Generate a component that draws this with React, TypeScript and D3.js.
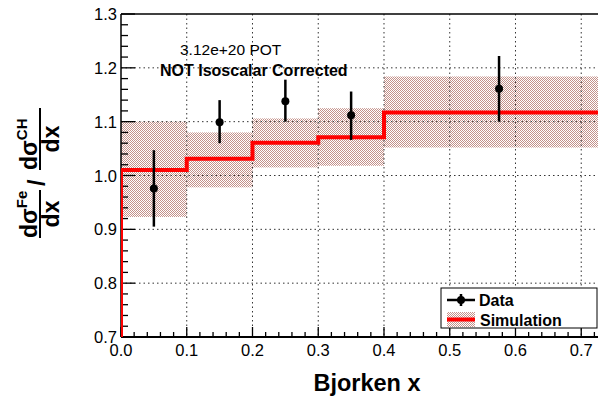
import React from "react";
import * as d3 from "d3";

const binEdges = [0, 0.1, 0.2, 0.3, 0.4, 1.0];
const simValues = [1.01, 1.031, 1.061, 1.071, 1.117];
const simLow = [0.923, 0.978, 1.015, 1.018, 1.052];
const simHigh = [1.1, 1.08, 1.106, 1.125, 1.184];

const dataX = [0.05, 0.15, 0.25, 0.35, 0.575];
const dataY = [0.976, 1.099, 1.138, 1.112, 1.161];
const dataLow = [0.905, 1.06, 1.1, 1.066, 1.1];
const dataHigh = [1.047, 1.14, 1.178, 1.156, 1.222];

const xTicks = [0, 0.1, 0.2, 0.3, 0.4, 0.5, 0.6, 0.7];
const yTicks = [0.7, 0.8, 0.9, 1.0, 1.1, 1.2, 1.3];

const W = 598;
const H = 398;
const L = 121;
const R = 598;
const T = 14;
const B = 337;
const FONT = "'Liberation Sans', Arial, Helvetica, sans-serif";
const HATCH = "#c4918a";

export default function App() {
  const x = d3.scaleLinear().domain([0, 0.7255]).range([L, R]);
  const y = d3.scaleLinear().domain([0.7, 1.3]).range([B, T]);

  const xMinor = d3.range(0, 0.73, 0.02);
  const yMinor = d3.range(0.7, 1.3001, 0.02);

  const stepPts: [number, number][] = [[0, 0.6]];
  simValues.forEach((v, i) => {
    stepPts.push([binEdges[i], v]);
    stepPts.push([binEdges[i + 1], v]);
  });
  const stepLine = d3
    .line<[number, number]>()
    .x((d) => x(d[0]))
    .y((d) => y(d[1]));

  return (
    <svg
      width={W}
      height={H}
      style={{ position: "fixed", left: 0, top: 0, background: "#fff" }}
      fontFamily={FONT}
    >
      <defs>
        <pattern id="hatch" width="2" height="2" patternUnits="userSpaceOnUse">
          <rect x="0" y="0" width="2" height="2" fill="#fff" />
          <rect x="0" y="0" width="1" height="1" fill={HATCH} />
          <rect x="1" y="1" width="1" height="1" fill={HATCH} />
        </pattern>
        <clipPath id="plot">
          <rect x={L} y={T} width={R - L} height={B - T} />
        </clipPath>
      </defs>
      <rect x={0} y={0} width={W} height={H} fill="#fff" />

      <g clipPath="url(#plot)">
        {simValues.map((v, i) => (
          <rect
            key={"band" + i}
            x={x(binEdges[i])}
            y={y(simHigh[i])}
            width={x(binEdges[i + 1]) - x(binEdges[i])}
            height={y(simLow[i]) - y(simHigh[i])}
            fill="url(#hatch)"
          />
        ))}
      </g>

      {/* grid */}
      {xTicks.slice(1).map((t) => (
        <line
          key={"gx" + t}
          x1={x(t)}
          x2={x(t)}
          y1={T}
          y2={B}
          stroke="#333"
          strokeWidth={1}
          strokeDasharray="1.5 3"
        />
      ))}
      {yTicks.slice(1, -1).map((t) => (
        <line
          key={"gy" + t}
          x1={L}
          x2={R}
          y1={y(t)}
          y2={y(t)}
          stroke="#333"
          strokeWidth={1}
          strokeDasharray="1.5 3"
        />
      ))}

      {/* ticks */}
      {xMinor.map((t, i) => {
        const major = i % 5 === 0;
        return (
          <line
            key={"xt" + i}
            x1={x(t)}
            x2={x(t)}
            y1={B}
            y2={B - (major ? 10 : 5)}
            stroke="#000"
            strokeWidth={1.3}
          />
        );
      })}
      {yMinor.map((t, i) => {
        const major = i % 5 === 0;
        return (
          <line
            key={"yt" + i}
            x1={L}
            x2={L + (major ? 14 : 7)}
            y1={y(t)}
            y2={y(t)}
            stroke="#000"
            strokeWidth={1.3}
          />
        );
      })}

      {/* frame */}
      <line x1={L} x2={R} y1={T} y2={T} stroke="#000" strokeWidth={1.5} />
      <line x1={L} x2={R} y1={B} y2={B} stroke="#000" strokeWidth={2} />
      <line x1={L} x2={L} y1={T} y2={B} stroke="#000" strokeWidth={1.5} />

      {/* simulation line */}
      <g clipPath="url(#plot)">
        <path
          d={stepLine(stepPts) || ""}
          fill="none"
          stroke="#ff0000"
          strokeWidth={4}
        />
      </g>

      {/* data */}
      {dataX.map((dx, i) => (
        <g key={"d" + i}>
          <line
            x1={x(dx)}
            x2={x(dx)}
            y1={y(dataLow[i])}
            y2={y(dataHigh[i])}
            stroke="#000"
            strokeWidth={2.5}
          />
          <circle cx={x(dx)} cy={y(dataY[i])} r={4} fill="#000" />
        </g>
      ))}

      {/* tick labels */}
      {xTicks.map((t) => (
        <text
          key={"xl" + t}
          x={x(t)}
          y={356}
          fontSize={16.5}
          textAnchor="middle"
          fill="#000"
        >
          {t.toFixed(1)}
        </text>
      ))}
      {yTicks.map((t) => (
        <text
          key={"yl" + t}
          x={117}
          y={y(t) + 6}
          fontSize={16.5}
          textAnchor="end"
          fill="#000"
        >
          {t.toFixed(1)}
        </text>
      ))}

      {/* axis title */}
      <text
        x={367}
        y={391}
        fontSize={23.5}
        fontWeight="bold"
        textAnchor="middle"
        fill="#000"
      >
        Bjorken x
      </text>

      {/* y axis title */}
      <g transform="translate(40,238) rotate(-90)" fontWeight="bold" fill="#000">
        <text x={0} y={-3} fontSize={23}>
          dσ
          <tspan fontSize={15} dy={-10}>Fe</tspan>
        </text>
        <line x1={0} x2={48} y1={0} y2={0} stroke="#000" strokeWidth={2} />
        <text x={24} y={19} fontSize={23} textAnchor="middle">
          dx
        </text>
        <text x={52} y={5} fontSize={23}>
          /
        </text>
        <text x={68} y={-3} fontSize={23}>
          dσ
          <tspan fontSize={15} dy={-10}>CH</tspan>
        </text>
        <line x1={68} x2={130} y1={0} y2={0} stroke="#000" strokeWidth={2} />
        <text x={99} y={19} fontSize={23} textAnchor="middle">
          dx
        </text>
      </g>

      {/* annotations */}
      <text x={180} y={55} fontSize={15.5} fill="#000">
        3.12e+20 POT
      </text>
      <text x={160} y={76} fontSize={16} fontWeight="bold" fill="#000">
        NOT Isoscalar Corrected
      </text>

      {/* legend */}
      <rect x={441} y={288} width={156} height={40} fill="#fff" stroke="#000" strokeWidth={1} />
      <line x1={447} x2={475} y1={300} y2={300} stroke="#000" strokeWidth={2.5} />
      <line x1={461} x2={461} y1={294} y2={306} stroke="#000" strokeWidth={2.5} />
      <circle cx={461} cy={300} r={4} fill="#000" />
      <text x={479} y={305.5} fontSize={16} fontWeight="bold" fill="#000">
        Data
      </text>
      <rect x={447} y={312} width={28} height={15} fill="url(#hatch)" />
      <line x1={447} x2={475} y1={319.5} y2={319.5} stroke="#ff0000" strokeWidth={4} />
      <text x={480} y={325.5} fontSize={16} fontWeight="bold" fill="#000">
        Simulation
      </text>
    </svg>
  );
}
